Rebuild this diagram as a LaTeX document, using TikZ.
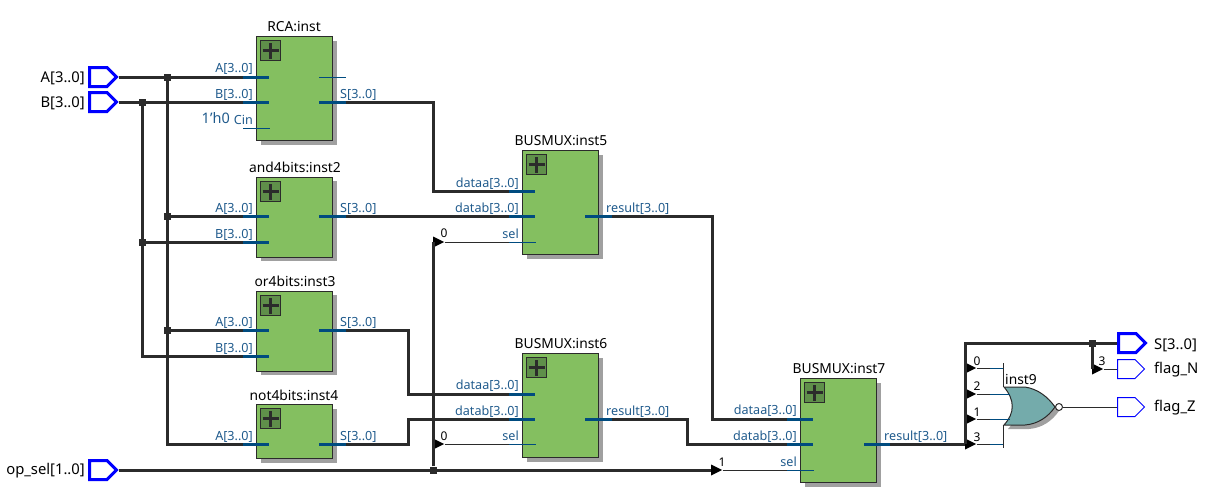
\documentclass[tikz,border=0pt]{standalone}
\usepackage{fontspec}
\setmainfont{Noto Sans}
\usetikzlibrary{shapes.symbols,shapes.geometric,shadows}
\definecolor{blockgreen}{HTML}{84BF60}
\definecolor{iconpad}{HTML}{5F8F4A}
\definecolor{gategreen}{HTML}{74ABAB}
\definecolor{wirecol}{HTML}{2B2B2B}
\definecolor{stubcol}{HTML}{004B7F}
\definecolor{portcol}{HTML}{1F5A8C}
\definecolor{shadowcol}{HTML}{A0A0A0}
\tikzset{
  blockshadow/.style={general shadow={fill=shadowcol,shadow xshift=4pt,shadow yshift=-4pt}},
  block/.style={draw=wirecol,line width=1pt,fill=blockgreen,blockshadow,minimum width=76pt,inner sep=0pt,outer sep=0pt,anchor=north west},
  icon/.style={draw=wirecol,line width=1pt,fill=iconpad,minimum size=20pt,inner sep=0pt,anchor=north west,
    path picture={\draw[wirecol,line width=3pt] ([xshift=-8pt]path picture bounding box.center)--([xshift=8pt]path picture bounding box.center);
      \draw[wirecol,line width=3pt] ([yshift=-8pt]path picture bounding box.center)--([yshift=8pt]path picture bounding box.center);}},
  title/.style={font=\fontsize{13.8}{14}\selectfont,text=black,inner sep=0pt},
  portlbl/.style={font=\fontsize{12.6}{13}\selectfont,text=portcol,inner sep=0pt,anchor=east,text height=9pt,text depth=2pt},
  outlbl/.style={font=\fontsize{12.6}{13}\selectfont,text=portcol,inner sep=0pt,anchor=west,text height=9pt,text depth=2pt},
  pinlbl/.style={font=\fontsize{14.8}{15}\selectfont,text=black,inner sep=0pt},
  bitlbl/.style={font=\fontsize{12}{12}\selectfont,text=black,inner sep=0pt},
  pinbase/.style={shape=signal,signal to=east,signal pointer angle=90,minimum width=27pt,minimum height=19pt,inner sep=0pt,anchor=west},
  buspin/.style={pinbase,draw=blue,line width=3pt},
  linepin/.style={pinbase,draw=blue,line width=1pt},
  bus/.style={wirecol,line width=3pt},
  line/.style={wirecol,line width=1pt},
  stub/.style={stubcol,line width=3pt},
  thinstub/.style={stubcol,line width=1pt},
  dot/.style={fill=wirecol,minimum size=7pt,inner sep=0pt},
  tap/.style={fill=black,shape=isosceles triangle,isosceles triangle stretches,minimum width=11pt,minimum height=11pt,inner sep=0pt,anchor=west}
}
\begin{document}
\begin{tikzpicture}[x=1pt,y=-1pt]
\useasboundingbox (0,0) rectangle (1211,493);
% blocks
\node[block,minimum height=104pt] (rca) at (256.5,36.5) {};
\node[block,minimum height=80pt] (andb) at (256.5,177) {};
\node[block,minimum height=80pt] (orb) at (256.5,291) {};
\node[block,minimum height=54pt] (notb) at (256.5,404.5) {};
\node[block,minimum height=104pt] (mux5) at (522.5,150.5) {};
\node[block,minimum height=104pt] (mux6) at (522.5,353.5) {};
\node[block,minimum height=104pt] (mux7) at (800.5,378.5) {};
\node[icon] (ic1) at (260,40) {};
\node[icon] (ic2) at (260,181) {};
\node[icon] (ic3) at (260,295) {};
\node[icon] (ic4) at (260,408) {};
\node[icon] (ic5) at (526,154) {};
\node[icon] (ic6) at (526,357) {};
\node[icon] (ic7) at (804,382) {};
\node[title] (t1) at (294,27) {RCA:inst};
\node[title] (t2) at (295,167) {and4bits:inst2};
\node[title] (t3) at (295,281) {or4bits:inst3};
\node[title] (t4) at (294,395) {not4bits:inst4};
\node[title] (t5) at (561,141) {BUSMUX:inst5};
\node[title] (t6) at (561,344) {BUSMUX:inst6};
\node[title] (t7) at (839,369) {BUSMUX:inst7};
% pins
\node[buspin] (pinA) at (88,77) {};
\node[buspin] (pinB) at (88,102) {};
\node[buspin] (pinOp) at (88,470) {};
\node[buspin] (pinS) at (1117,343) {};
\node[linepin] (pinN) at (1117,369) {};
\node[linepin] (pinZ) at (1117,407) {};
\node[pinlbl,anchor=east] (lA) at (85,78) {A[3..0]};
\node[pinlbl,anchor=east] (lB) at (85,103) {B[3..0]};
\node[pinlbl,anchor=east] (lOp) at (85,471) {op\_sel[1..0]};
\node[pinlbl,anchor=west] (lS) at (1154,345) {S[3..0]};
\node[pinlbl,anchor=west] (lN) at (1154,370) {flag\_N};
\node[pinlbl,anchor=west] (lZ) at (1154,408) {flag\_Z};
% port ends
\coordinate (rcaA) at (243,77);
\coordinate (rcaAi) at (269,77);
\coordinate (rcaB) at (243,102);
\coordinate (rcaBi) at (269,102);
\coordinate (rcaS) at (346,102);
\coordinate (rcaSi) at (319,102);
\coordinate (andA) at (243,216);
\coordinate (andAi) at (269,216);
\coordinate (andB) at (243,242);
\coordinate (andBi) at (269,242);
\coordinate (andS) at (346,216);
\coordinate (andSi) at (319,216);
\coordinate (orA) at (243,330);
\coordinate (orAi) at (269,330);
\coordinate (orB) at (243,356);
\coordinate (orBi) at (269,356);
\coordinate (orS) at (346,330);
\coordinate (orSi) at (319,330);
\coordinate (notA) at (243,444);
\coordinate (notAi) at (269,444);
\coordinate (notS) at (346,444);
\coordinate (notSi) at (319,444);
\coordinate (m5a) at (509,191);
\coordinate (m5ai) at (535,191);
\coordinate (m5b) at (509,216);
\coordinate (m5bi) at (535,216);
\coordinate (m5r) at (612,216);
\coordinate (m5ri) at (585,216);
\coordinate (m6a) at (509,394);
\coordinate (m6ai) at (535,394);
\coordinate (m6b) at (509,419);
\coordinate (m6bi) at (535,419);
\coordinate (m6r) at (612,419);
\coordinate (m6ri) at (585,419);
\coordinate (m7a) at (787,419);
\coordinate (m7ai) at (813,419);
\coordinate (m7b) at (787,444);
\coordinate (m7bi) at (813,444);
\coordinate (m7r) at (890,444);
\coordinate (m7ri) at (864,444);
% junctions and taps
\node[dot] (jA) at (167,77) {};
\node[dot] (jB) at (142,102) {};
\node[dot] (jA2) at (167,216) {};
\node[dot] (jB2) at (142,242) {};
\node[dot] (jA3) at (167,330) {};
\node[dot] (jOp) at (433,470) {};
\node[dot] (jS) at (1092,343) {};
\node[tap] (tap5) at (433,242) {};
\node[tap] (tap6) at (433,444) {};
\node[tap] (tap7) at (711,470) {};
\node[tap] (tapN) at (1092,369) {};
\node[tap] (tapG0) at (965,368) {};
\node[tap] (tapG2) at (965,394) {};
\node[tap] (tapG1) at (965,419) {};
\node[tap] (tapG3) at (965,444) {};
% buses
\draw[bus] (pinA.east) -- (rcaA);
\draw[bus] (pinB.east) -- (rcaB);
\draw[bus] (jA) -- (167,444) -- (notA);
\draw[bus] (jA2) -- (andA);
\draw[bus] (jA3) -- (orA);
\draw[bus] (jB) -- (142,356) -- (orB);
\draw[bus] (jB2) -- (andB);
\draw[bus] (rcaS) -- (433,102) -- (433,191) -- (m5a);
\draw[bus] (andS) -- (m5b);
\draw[bus] (orS) -- (408,330) -- (408,394) -- (m6a);
\draw[bus] (notS) -- (408,444) -- (408,419) -- (m6b);
\draw[bus] (jOp) -- (tap5.west);
\draw[bus] (pinOp.east) -- (tap7.west);
\draw[bus] (m5r) -- (712,216) -- (712,419) -- (m7a);
\draw[bus] (m6r) -- (687,419) -- (687,444) -- (m7b);
\draw[bus] (m7r) -- (tapG3.west);
\draw[bus] (tapG3.west) -- (965,343) -- (pinS.west);
\draw[bus] (jS) -- (tapN.west);
% port stubs
\draw[stub] (rcaA) -- (rcaAi);
\draw[stub] (rcaB) -- (rcaBi);
\draw[stub] (rcaS) -- (rcaSi);
\draw[stub] (andA) -- (andAi);
\draw[stub] (andB) -- (andBi);
\draw[stub] (andS) -- (andSi);
\draw[stub] (orA) -- (orAi);
\draw[stub] (orB) -- (orBi);
\draw[stub] (orS) -- (orSi);
\draw[stub] (notA) -- (notAi);
\draw[stub] (notS) -- (notSi);
\draw[stub] (m5a) -- (m5ai);
\draw[stub] (m5b) -- (m5bi);
\draw[stub] (m5r) -- (m5ri);
\draw[stub] (m6a) -- (m6ai);
\draw[stub] (m6b) -- (m6bi);
\draw[stub] (m6r) -- (m6ri);
\draw[stub] (m7a) -- (m7ai);
\draw[stub] (m7b) -- (m7bi);
\draw[stub] (m7r) -- (m7ri);
% thin ports
\draw[thinstub] (243,128) -- (270,128);
\draw[thinstub] (319,77) -- (346,77);
\draw[line] (tap5) -- (509,242);
\draw[thinstub] (509,242) -- (536,242);
\draw[line] (tap6) -- (509,444);
\draw[thinstub] (509,444) -- (536,444);
\draw[line] (tap7) -- (787,470);
\draw[thinstub] (787,470) -- (814,470);
% gate
\fill[gategreen,draw=wirecol,line width=1pt,blockshadow] (1004,387) -- (1025,387) .. controls (1038,389) and (1048,397) .. (1055,407) .. controls (1048,417) and (1038,424) .. (1025,425) -- (1004,425) .. controls (1015,413) and (1015,400) .. (1004,387) -- cycle;
\node[draw=wirecol,fill=white,circle,line width=1pt,minimum size=7pt,inner sep=0pt] (bub) at (1059,407) {};
\draw[line] (1003,363) -- (1003,387);
\draw[line] (1003,425) -- (1003,448);
\draw[line] (tapG0) -- (990,368);
\draw[thinstub] (990,368) -- (1003,368);
\draw[line] (tapG2) -- (990,394);
\draw[thinstub] (990,394) -- (1010,394);
\draw[line] (tapG1) -- (990,419);
\draw[thinstub] (990,419) -- (1010,419);
\draw[line] (tapG3) -- (990,444);
\draw[thinstub] (990,444) -- (1003,444);
\draw[line] (tapN) -- (pinN.west);
\draw[line] (bub) -- (pinZ.west);
\node[title] (t9) at (1021,379) {inst9};
% port labels
\node[portlbl] (p1) at (253,69) {A[3..0]};
\node[portlbl] (p2) at (253,95) {B[3..0]};
\node[portlbl] (p3) at (253,121) {Cin};
\node[portlbl,font=\fontsize{14.5}{15}\selectfont] (p4) at (230,120) {1'h0};
\node[outlbl] (p5) at (340,95) {S[3..0]};
\node[portlbl] (p6) at (253,209) {A[3..0]};
\node[portlbl] (p7) at (253,235) {B[3..0]};
\node[outlbl] (p8) at (340,209) {S[3..0]};
\node[portlbl] (p9) at (253,323) {A[3..0]};
\node[portlbl] (p10) at (253,349) {B[3..0]};
\node[outlbl] (p11) at (340,323) {S[3..0]};
\node[portlbl] (p12) at (253,437) {A[3..0]};
\node[outlbl] (p13) at (340,437) {S[3..0]};
\node[portlbl] (p14) at (519,184) {dataa[3..0]};
\node[portlbl] (p15) at (519,209) {datab[3..0]};
\node[portlbl] (p16) at (519,235) {sel};
\node[outlbl] (p17) at (606,209) {result[3..0]};
\node[portlbl] (p18) at (519,386) {dataa[3..0]};
\node[portlbl] (p19) at (519,412) {datab[3..0]};
\node[portlbl] (p20) at (519,437) {sel};
\node[outlbl] (p21) at (606,412) {result[3..0]};
\node[portlbl] (p22) at (797,411) {dataa[3..0]};
\node[portlbl] (p23) at (797,437) {datab[3..0]};
\node[portlbl] (p24) at (797,463) {sel};
\node[outlbl] (p25) at (884,437) {result[3..0]};
% bit labels
\node[bitlbl] (b1) at (444,233) {0};
\node[bitlbl] (b2) at (444,436) {0};
\node[bitlbl] (b3) at (722,462) {1};
\node[bitlbl] (b4) at (977,361) {0};
\node[bitlbl] (b5) at (977,386) {2};
\node[bitlbl] (b6) at (977,412) {1};
\node[bitlbl] (b7) at (977,437) {3};
\node[bitlbl] (b8) at (1102,361) {3};
\end{tikzpicture}
\end{document}
